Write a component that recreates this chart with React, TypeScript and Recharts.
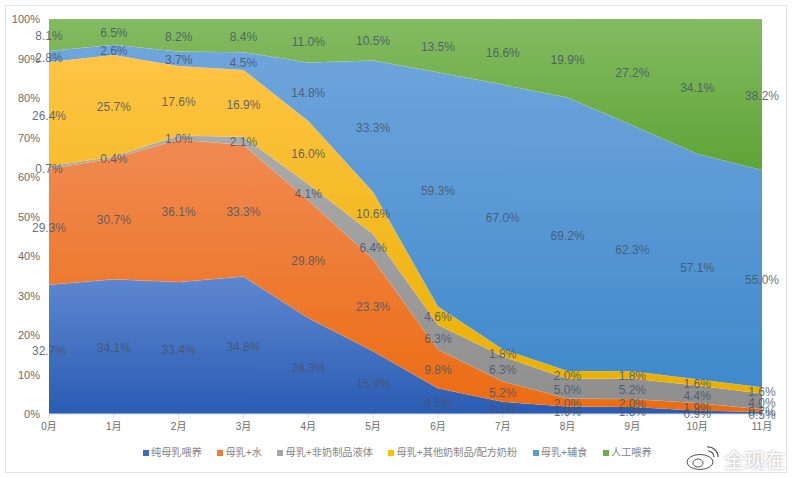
import { Area, ComposedChart, Legend, Line, XAxis, YAxis } from "recharts";

const months = ["0月", "1月", "2月", "3月", "4月", "5月", "6月", "7月", "8月", "9月", "10月", "11月"];
const pure = [32.7, 34.1, 33.4, 34.8, 24.3, 15.9, 6.5, 3.1, 1.9, 1.8, 0.9, 0.5];
const water = [29.3, 30.7, 36.1, 33.3, 29.8, 23.3, 9.8, 5.2, 2.0, 2.0, 1.9, 0.7];
const liquid = [0.7, 0.4, 1.0, 2.1, 4.1, 6.4, 6.3, 6.3, 5.0, 5.2, 4.4, 4.0];
const otherMilk = [26.4, 25.7, 17.6, 16.9, 16.0, 10.6, 4.6, 1.8, 2.0, 1.8, 1.6, 1.6];
const solids = [2.8, 2.6, 3.7, 4.5, 14.8, 33.3, 59.3, 67.0, 69.2, 62.3, 57.1, 55.0];
const formula = [8.1, 6.5, 8.2, 8.4, 11.0, 10.5, 13.5, 16.6, 19.9, 27.2, 34.1, 38.2];

const series = [
  { key: "pure", name: "纯母乳喂养", values: pure, top: "#5f87d0", bottom: "#2a5cb3", legend: "#3c6cc0" },
  { key: "water", name: "母乳+水", values: water, top: "#f08a52", bottom: "#ec6c12", legend: "#ed7d31" },
  { key: "liquid", name: "母乳+非奶制品液体", values: liquid, top: "#ababab", bottom: "#8e8e8e", legend: "#a5a5a5" },
  { key: "otherMilk", name: "母乳+其他奶制品/配方奶粉", values: otherMilk, top: "#ffc445", bottom: "#e9b000", legend: "#ffc000" },
  { key: "solids", name: "母乳+辅食", values: solids, top: "#70a5dc", bottom: "#3f8acb", legend: "#5b9bd5" },
  { key: "formula", name: "人工喂养", values: formula, top: "#84bb62", bottom: "#5fa436", legend: "#70ad47" },
];

// each row holds the band values plus the band middle, where the labels sit
const table = months.map((month, i) => {
  const row: Record<string, string | number> = { month };
  let sum = 0;
  series.forEach((s) => {
    row[s.key] = s.values[i];
    row[`${s.key}Mid`] = sum + s.values[i] / 2;
    sum += s.values[i];
  });
  return row;
});

const percentLabel = (values: number[]) => (props: any) => (
  <text
    x={props.x}
    y={props.y}
    dy={5.5}
    textAnchor="middle"
    fontSize={12}
    fill="#44546a"
    fillOpacity={0.85}
    fontFamily="'Liberation Sans', sans-serif"
  >
    {values[props.index].toFixed(1)}%
  </text>
);

function BottomLegend() {
  return (
    <div style={{ display: "flex", gap: 15.5, height: 40, paddingLeft: 143, lineHeight: "27px", fontSize: 10.2, color: "#858585" }}>
      {series.map((s) => (
        <span key={s.key} style={{ display: "flex", alignItems: "center", height: 27, whiteSpace: "nowrap" }}>
          <span style={{ width: 6, height: 6, marginRight: 2, background: s.legend }} />
          {s.name}
        </span>
      ))}
    </div>
  );
}

export default function App() {
  return (
    <div style={{ position: "absolute", left: 0, top: 0, width: 794, height: 479, background: "#fff", overflow: "hidden" }}>
      <div style={{ position: "absolute", left: 5, top: 5, width: 780, height: 466, border: "1px solid #dfe1ec" }} />
      <ComposedChart
        width={794}
        height={479}
        data={table}
        margin={{ top: 19, right: 32, bottom: 0, left: 0 }}
        style={{ fontFamily: "'Liberation Sans', 'Noto Sans CJK SC', sans-serif" }}
      >
        <defs>
          {series.map((s) => (
            <linearGradient key={s.key} id={`grad-${s.key}`} x1="0" y1="0" x2="0" y2="1">
              <stop offset="0%" stopColor={s.top} />
              <stop offset="100%" stopColor={s.bottom} />
            </linearGradient>
          ))}
        </defs>
        <XAxis
          dataKey="month"
          scale="point"
          height={25}
          tick={{ fontSize: 10, fill: "#6b6b6b", dy: 3 }}
          tickLine={{ stroke: "#d9d9d9" }}
          axisLine={{ stroke: "#d9d9d9" }}
          tickSize={4}
          interval={0}
        />
        <YAxis
          width={49}
          domain={[0, 100]}
          allowDataOverflow
          ticks={[0, 10, 20, 30, 40, 50, 60, 70, 80, 90, 100]}
          tickFormatter={(v) => `${v}%`}
          tick={{ fontSize: 11, fill: "#6b6b6b", dy: 0.5 }}
          axisLine={false}
          tickLine={false}
          tickMargin={3}
        />
        <Legend
          verticalAlign="bottom"
          height={40}
          wrapperStyle={{ left: 0, width: 794 }}
          content={<BottomLegend />}
        />
        {series.map((s) => (
          <Area
            key={s.key}
            dataKey={s.key}
            name={s.name}
            stackId="share"
            type="linear"
            fill={`url(#grad-${s.key})`}
            fillOpacity={1}
            stroke="#ffffff"
            strokeOpacity={0.3}
            strokeWidth={0.5}
            isAnimationActive={false}
          />
        ))}
        {series.map((s) => (
          <Line
            key={`${s.key}Mid`}
            dataKey={`${s.key}Mid`}
            stroke="none"
            dot={false}
            activeDot={false}
            legendType="none"
            label={percentLabel(s.values)}
            isAnimationActive={false}
          />
        ))}
      </ComposedChart>
      <svg width={50} height={30} style={{ position: "absolute", left: 686, top: 444 }}>
        <ellipse cx={14} cy={18} rx={13} ry={7.5} fill="#fff" stroke="#555" strokeWidth={1} />
        <ellipse cx={12} cy={19} rx={5} ry={4} fill="none" stroke="#555" strokeWidth={1} />
        <path d="M22 7 A6 6 0 0 1 28 13 M21 3 A10 10 0 0 1 32 13" fill="none" stroke="#555" strokeWidth={1.2} />
      </svg>
      <div
        style={{
          position: "absolute",
          left: 724,
          top: 446,
          fontSize: 20.5,
          color: "#fff",
          fontFamily: "'Noto Sans CJK SC', sans-serif",
          textShadow: "0 0 3px #999",
          lineHeight: "26px",
        }}
      >
        全现在
      </div>
    </div>
  );
}
